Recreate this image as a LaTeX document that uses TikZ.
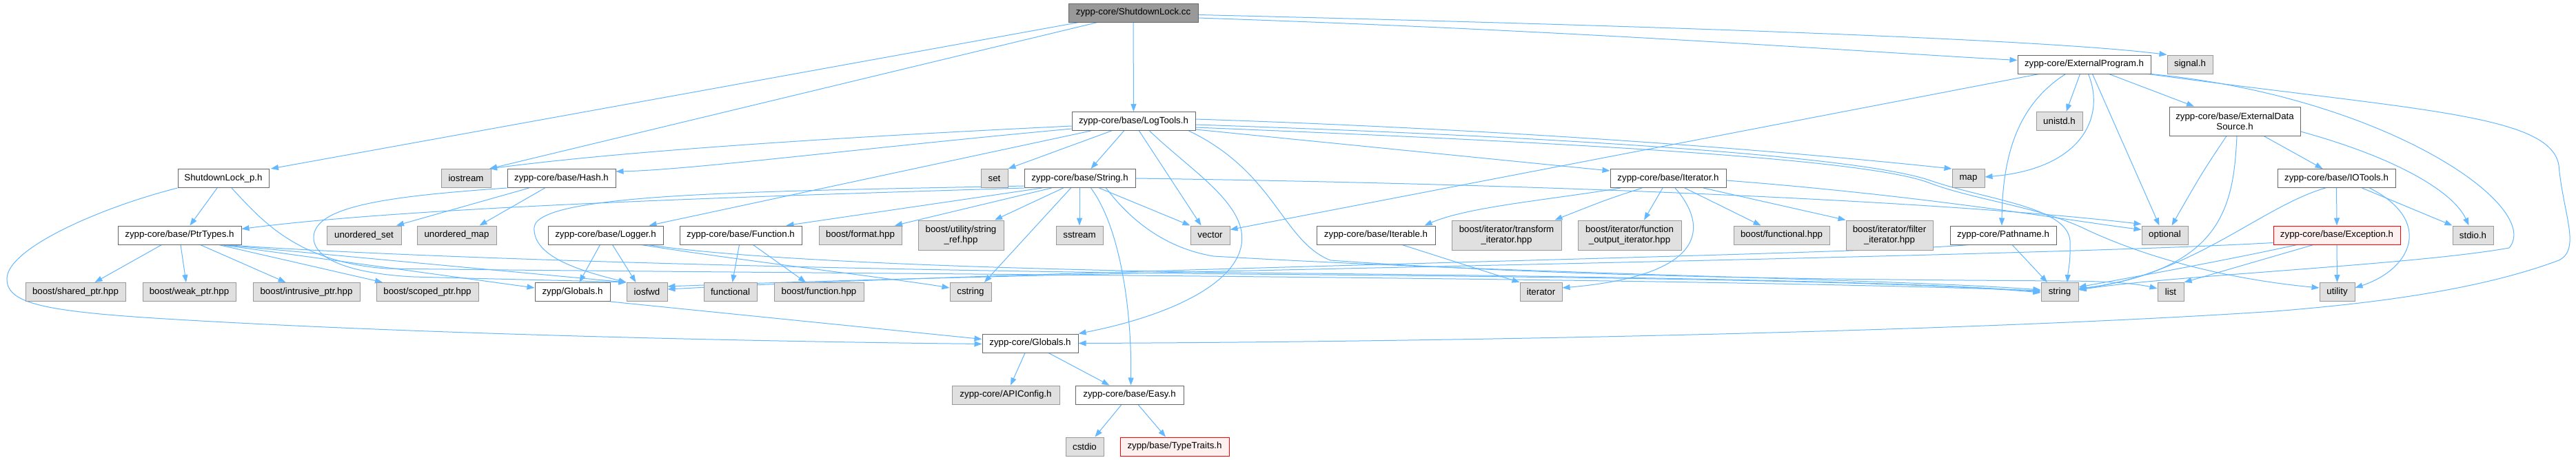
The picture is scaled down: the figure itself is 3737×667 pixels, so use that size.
\documentclass[tikz,border=0pt]{standalone}
\usepackage{fontspec}
\setmainfont{Liberation Sans}
\usetikzlibrary{arrows.meta}
\definecolor{edgec}{HTML}{63B8FF}
\definecolor{sysfill}{HTML}{E0E0E0}
\definecolor{sysdraw}{HTML}{999999}
\definecolor{usrdraw}{HTML}{666666}
\definecolor{rootfill}{HTML}{999999}
\definecolor{trfill}{HTML}{FFF0F0}
\definecolor{trdraw}{HTML}{FF0000}
\newcommand\nodefont{\fontsize{13.3}{15.5}\selectfont}
\pgfdeclarelayer{bg}
\pgfsetlayers{bg,main}
\begin{document}
\begin{tikzpicture}[x=1pt,y=-1pt,
 nb/.style={rectangle, inner sep=0pt, minimum height=27pt, font=\nodefont, line width=1pt, align=center, text=black},
 usr/.style={nb, draw=usrdraw, fill=white},
 sys/.style={nb, draw=sysdraw, fill=sysfill},
 trunc/.style={nb, draw=trdraw, fill=trfill},
 rootn/.style={nb, draw=usrdraw, fill=rootfill},
 tall/.style={minimum height=43pt},
 mw/.style={minimum width=#1},
 e/.style={draw=edgec, line width=1pt, -{Triangle[length=11pt,width=8pt]}},
]
\useasboundingbox (0,0) rectangle (3737,667);

\node[rootn,mw=188] (R) at (1644,18.5) {zypp-core/ShutdownLock.cc};
\node[usr,mw=179] (LT) at (1644.5,176) {zypp-core/base/LogTools.h};
\node[usr,mw=193] (EP) at (3023.5,93.5) {zypp-core/ExternalProgram.h};
\node[sys,mw=66] (sig) at (3177,93.5) {signal.h};
\node[usr,mw=132] (sdp) at (324,259) {ShutdownLock\_p.h};
\node[sys,mw=72] (ios) at (676,259) {iostream};
\node[usr,mw=157] (hash) at (814.5,259) {zypp-core/base/Hash.h};
\node[sys,mw=39] (set) at (1442.5,259) {set};
\node[usr,mw=161] (strh) at (1566.5,259) {zypp-core/base/String.h};
\node[usr,mw=168] (it) at (2420,259) {zypp-core/base/Iterator.h};
\node[sys,mw=47] (map) at (2855.5,259) {map};
\node[usr,mw=171] (iot) at (3389.5,259) {zypp-core/base/IOTools.h};
\node[sys,mw=67] (unistd) at (2987.5,176) {unistd.h};
\node[usr,mw=190,minimum height=42pt] (eds) at (3242,176) {zypp-core/base/ExternalData\\Source.h};
\node[usr,mw=179] (ptr) at (260.5,341.5) {zypp-core/base/PtrTypes.h};
\node[sys,mw=108] (uset) at (528,341.5) {unordered\_set};
\node[sys,mw=115] (umap) at (662.5,341.5) {unordered\_map};
\node[usr,mw=167] (lg) at (878.5,341.5) {zypp-core/base/Logger.h};
\node[usr,mw=177] (fn) at (1074.5,341.5) {zypp-core/base/Function.h};
\node[sys,mw=120] (bfmt) at (1248,341.5) {boost/format.hpp};
\node[sys,mw=124,tall] (sref) at (1394,341.5) {boost/utility/string\\\_ref.hpp};
\node[sys,mw=68] (sst) at (1566,341.5) {sstream};
\node[sys,mw=57] (vec) at (1755.5,341.5) {vector};
\node[usr,mw=172] (itb) at (1996,341.5) {zypp-core/base/Iterable.h};
\node[sys,mw=159,tall] (tfm) at (2185.5,341.5) {boost/iterator/transform\\\_iterator.hpp};
\node[sys,mw=150,tall] (foi) at (2364,341.5) {boost/iterator/function\\\_output\_iterator.hpp};
\node[sys,mw=139] (bfun) at (2584.5,341.5) {boost/functional.hpp};
\node[sys,mw=126,tall] (filt) at (2741,341.5) {boost/iterator/filter\\\_iterator.hpp};
\node[usr,mw=154] (pn) at (2906,341.5) {zypp-core/Pathname.h};
\node[sys,mw=67] (opt) at (3140.5,341.5) {optional};
\node[trunc,mw=184] (exc) at (3390,341.5) {zypp-core/base/Exception.h};
\node[sys,mw=59] (stdio) at (3587.5,341.5) {stdio.h};
\node[sys,mw=145] (shp) at (109.5,424) {boost/shared\_ptr.hpp};
\node[sys,mw=135] (wkp) at (274.5,424) {boost/weak\_ptr.hpp};
\node[sys,mw=155] (inp) at (444.5,424) {boost/intrusive\_ptr.hpp};
\node[sys,mw=148] (scp) at (620,424) {boost/scoped\_ptr.hpp};
\node[usr,mw=109] (zg) at (830.5,424) {zypp/Globals.h};
\node[sys,mw=59] (fwd) at (938.5,424) {iosfwd};
\node[sys,mw=77] (fnl) at (1059.5,424) {functional};
\node[sys,mw=130] (bfn) at (1188,424) {boost/function.hpp};
\node[sys,mw=60] (cstr) at (1408,424) {cstring};
\node[sys,mw=61] (iter) at (2235.5,424) {iterator};
\node[sys,mw=54] (stds) at (2988,424) {string};
\node[sys,mw=38] (list) at (3149,424) {list};
\node[sys,mw=51] (util) at (3390.5,424) {utility};
\node[usr,mw=139] (gc) at (1494.5,498.5) {zypp-core/Globals.h};
\node[sys,mw=156] (api) at (1459,573.5) {zypp-core/APIConfig.h};
\node[usr,mw=157] (easy) at (1638.5,573.5) {zypp-core/base/Easy.h};
\node[sys,mw=55] (cstdio) at (1573.5,648.5) {cstdio};
\node[trunc,mw=158] (tt) at (1704,648.5) {zypp/base/TypeTraits.h};

\begin{pgfonlayer}{bg}
\fill[white] (0,0) rectangle (3737,667);
% root
\draw[e] ([xshift=-79]R.south) -- ([xshift=69]sdp.north);
\draw[e] ([xshift=-52]R.south) -- ([xshift=34]ios.north);
\draw[e] (R.south) -- (LT.north);
\draw[e] ([yshift=-7.5]R.east) .. controls (2300,45) and (2700,75) .. ([yshift=6]EP.west);
\draw[e] ([yshift=-3]R.east) .. controls (2300,35) and (2950,55) .. (sig.north west);
% LogTools
\draw[e] ([yshift=-7]LT.west) .. controls (1200,200) and (900,220) .. ([xshift=34]ios.north);
\draw[e] ([yshift=-11]LT.west) .. controls (1250,215) and (1000,247) .. ([yshift=10]hash.east);
\draw[e] ([xshift=-62]LT.south) -- ([xshift=63]lg.north);
\draw[e] ([xshift=-32]LT.south) -- (set.north east);
\draw[e] ([xshift=-14]LT.south) -- ([xshift=16]strh.north);
\draw[e] ([xshift=8]LT.south) -- ([xshift=-13]vec.north);
\draw[e] ([xshift=23]LT.south) .. controls (1730,250) and (1815,300) .. (1800,360) .. controls (1785,420) and (1680,462) .. (gc.north east);
\draw[e] ([yshift=3]LT.east) .. controls (2100,185) and (2500,210) .. (map.north west);
\draw[e] ([yshift=-12]LT.east) -- ([yshift=11]it.west);
\draw[e] ([yshift=-5]LT.east) .. controls (2300,200) and (2700,228) .. (2800,262) .. controls (2880,290) and (3000,300) .. (3003,350) .. controls (3004,380) and (3000,395) .. ([xshift=11]stds.north);
\draw[e] ([yshift=-9]LT.east) .. controls (2400,212) and (2720,235) .. (2800,266) .. controls (2870,292) and (2960,300) .. (3030,335) .. controls (3150,390) and (3280,410) .. ([yshift=6]util.west);
\draw[e] ([xshift=80]LT.south) .. controls (1850,250) and (1860,350) .. (1930,378) .. controls (2300,404) and (2700,406) .. (2990,408) .. controls (3060,408) and (3100,412) .. ([yshift=5]list.west);
% String.h
\draw[e] (strh.south west) .. controls (1100,285) and (600,300) .. ([yshift=9]ptr.east);
\draw[e] ([yshift=-11]strh.west) .. controls (1100,278) and (780,280) .. (775,330) .. controls (772,375) and (850,395) .. (fwd.north west);
\draw[e] ([xshift=-55]strh.south) -- ([xshift=66]fn.north);
\draw[e] ([xshift=-41]strh.south) -- ([xshift=50]bfmt.north);
\draw[e] ([xshift=-24]strh.south) -- ([xshift=49]sref.north);
\draw[e] ([xshift=-13]strh.south) -- ([xshift=20]cstr.north);
\draw[e] ([xshift=-0.5]strh.south) -- (sst.north);
\draw[e] ([xshift=16]strh.south) .. controls (1625,330) and (1642,450) .. ([xshift=2]easy.north);
\draw[e] ([xshift=28]strh.south) -- (vec.north west);
\draw[e] (strh.east) .. controls (2300,268) and (2850,295) .. ([yshift=16]opt.west);
\draw[e] ([xshift=38]strh.south) .. controls (1640,320) and (1690,360) .. (1760,372) .. controls (2200,398) and (2750,405) .. ([yshift=3]stds.west);
% Logger
\draw[e] ([xshift=-8]lg.south) -- ([xshift=10]zg.north);
\draw[e] ([xshift=10]lg.south) -- ([xshift=-16]fwd.north);
\draw[e] ([xshift=52]lg.south) .. controls (1050,375) and (1300,405) .. ([yshift=6]cstr.west);
\draw[e] ([xshift=62]lg.south) .. controls (1100,380) and (1500,392) .. (1800,396) .. controls (2400,402) and (2800,410) .. (stds.west);
% PtrTypes
\draw[e] ([xshift=-26]ptr.south) -- ([xshift=28]shp.north);
\draw[e] ([xshift=1.5]ptr.south) -- ([xshift=-4.5]wkp.north);
\draw[e] ([xshift=30]ptr.south) -- ([xshift=-30]inp.north);
\draw[e] ([xshift=57]ptr.south) -- ([xshift=-65]scp.north);
\draw[e] ([xshift=60]ptr.south) -- ([yshift=6]zg.west);
\draw[e] ([xshift=63]ptr.south) -- (fwd.north west);
\draw[e] ([xshift=66]ptr.south) .. controls (600,375) and (1200,392) .. (1800,398) .. controls (2400,403) and (2800,410) .. ([yshift=-1]stds.west);
% ShutdownLock_p.h
\draw[e] ([xshift=-9]sdp.south) -- ([xshift=15]ptr.north);
\draw[e] (sdp.south west) .. controls (150,300) and (10,360) .. (10,405) .. controls (10,440) and (60,452) .. (240,463) .. controls (600,485) and (1100,496) .. ([yshift=-1]gc.west);
\draw[e] ([xshift=12]sdp.south) .. controls (380,320) and (430,380) .. (560,390) .. controls (1200,398) and (2400,402) .. ([yshift=2]stds.west);
% Hash
\draw[e] ([xshift=-47]hash.south) -- ([xshift=47]uset.north);
\draw[e] ([xshift=-24]hash.south) -- ([xshift=33]umap.north);
\draw[e] (hash.south west) .. controls (560,285) and (455,300) .. (455,345) .. controls (455,380) and (520,398) .. (600,402) .. controls (750,406) and (850,408) .. (fwd.north west);
% Function
\draw[e] ([xshift=-2]fn.south) -- ([xshift=3]fnl.north);
\draw[e] ([xshift=18]fn.south) -- ([xshift=-19]bfn.north);
% zypp/Globals.h
\draw[e] (zg.south east) -- ([yshift=6]gc.west);
% zypp-core/Globals.h
\draw[e] ([xshift=-7.5]gc.south) -- ([xshift=7]api.north);
\draw[e] ([xshift=26.5]gc.south) -- ([xshift=-29]easy.north);
% Easy
\draw[e] ([xshift=-11.5]easy.south) -- ([xshift=15]cstdio.north);
\draw[e] ([xshift=12.5]easy.south) -- ([xshift=-13]tt.north);
% Iterator
\draw[e] ([xshift=-69]it.south) .. controls (2250,290) and (2130,300) .. ([xshift=-16]itb.north east);
\draw[e] ([xshift=-38]it.south) .. controls (2330,290) .. ([xshift=70]tfm.north);
\draw[e] ([xshift=-8]it.south) -- ([xshift=21]foi.north);
\draw[e] ([xshift=24]it.south) -- ([xshift=-30]bfun.north);
\draw[e] ([xshift=51]it.south) -- (filt.north west);
\draw[e] ([xshift=10]it.south) .. controls (2480,330) and (2475,400) .. ([yshift=6]iter.east);
\draw[e] ([yshift=-3]it.east) .. controls (2800,285) and (3000,320) .. ([yshift=8]opt.west);
% Iterable
\draw[e] ([xshift=38]itb.south) -- (iter.north west);
% ExternalProgram
\draw[e] ([xshift=-65.5]EP.south) -- ([yshift=8]vec.east);
\draw[e] ([xshift=-27]EP.south) .. controls (2930,150) and (2905,220) .. ([xshift=-2]pn.north);
\draw[e] ([xshift=-6]EP.south) -- ([xshift=10]unistd.north);
\draw[e] ([xshift=6]EP.south) .. controls (3055,170) and (3020,245) .. ([yshift=2]map.east);
\draw[e] ([xshift=12]EP.south) -- ([xshift=-8]opt.north);
\draw[e] ([xshift=36]EP.south) -- ([xshift=-59]eds.north);
\draw[e] (EP.south east) .. controls (3460,140) and (3690,300) .. (3640,360) .. controls (3500,385) and (3150,400) .. ([yshift=3]stds.east);
\draw[e] ([xshift=-4]EP.south east) .. controls (3500,160) and (3700,165) .. (3712,240) .. controls (3718,310) and (3745,362) .. (3712,378) .. controls (3600,420) and (3450,440) .. (3300,452) .. controls (2800,485) and (2000,497) .. (gc.east);
% ExternalDataSource
\draw[e] ([xshift=-12]eds.south) .. controls (3195,250) .. ([xshift=10]opt.north);
\draw[e] ([xshift=3]eds.south) .. controls (3240,300) and (3225,390) .. ([yshift=4]stds.east);
\draw[e] ([xshift=42]eds.south) -- ([xshift=-20]iot.north);
\draw[e] ([yshift=-15]eds.east) .. controls (3480,230) and (3560,280) .. ([xshift=-6]stdio.north);
% IOTools
\draw[e] (iot.south) -- (exc.north);
\draw[e] ([xshift=-16]iot.south) .. controls (3280,300) and (3180,400) .. ([yshift=5]stds.east);
\draw[e] ([xshift=37]iot.south) -- (stdio.north west);
\draw[e] ([xshift=48]iot.south) .. controls (3530,320) and (3500,390) .. ([yshift=6]util.east);
% Exception
\draw[e] (exc.south) -- (util.north);
\draw[e] ([xshift=-34]exc.south) -- (list.north east);
\draw[e] ([xshift=-58]exc.south) .. controls (3220,380) and (3080,405) .. ([yshift=7]stds.east);
\draw[e] ([yshift=-11]exc.west) .. controls (2900,375) and (1500,395) .. ([yshift=8]fwd.east);
% Pathname
\draw[e] ([xshift=13]pn.south) -- ([xshift=-18]stds.north);
\draw[e] ([xshift=-50]pn.south) .. controls (2700,370) and (1500,392) .. ([yshift=4]fwd.east);
\end{pgfonlayer}
\end{tikzpicture}
\end{document}
